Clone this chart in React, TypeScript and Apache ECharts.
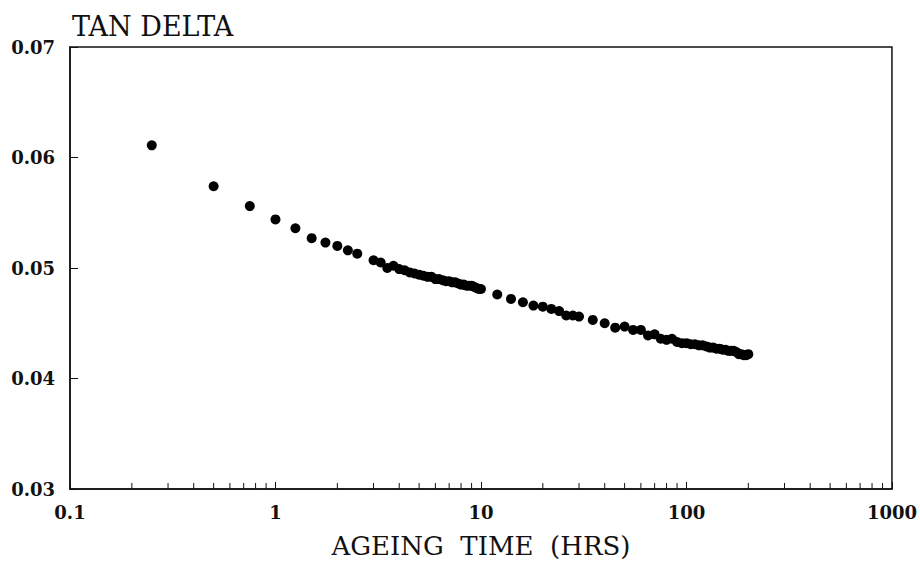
import React, { useEffect, useRef } from "react";
import * as echarts from "echarts";

// Ageing time (hours)
const hoursEarly = [0.25, 0.5, 0.75, 1.0, 1.25, 1.5, 1.75, 2.0, 2.25, 2.5];
const tanEarly = [0.0611, 0.0574, 0.0556, 0.0544, 0.0536, 0.0527, 0.0523, 0.052, 0.0516, 0.0513];

const hoursMid = [
  3.0, 3.25, 3.5, 3.75, 4.0, 4.25, 4.5, 4.75, 5.0, 5.25, 5.5, 5.75, 6.0, 6.25, 6.5, 6.75, 7.0,
  7.25, 7.5, 7.75, 8.0, 8.25, 8.5, 8.75, 9.0, 9.25, 9.5, 9.75, 10.0,
];
const tanMid = [
  0.0507, 0.0505, 0.05, 0.0502, 0.0499, 0.0498, 0.0496, 0.0495, 0.0494, 0.0493, 0.0492, 0.0492,
  0.049, 0.049, 0.0489, 0.0488, 0.0488, 0.0487, 0.0487, 0.0486, 0.0485, 0.0485, 0.0484, 0.0484,
  0.0484, 0.0483, 0.0482, 0.0481, 0.0481,
];

const hoursLate = [
  12, 14, 16, 18, 20, 22, 24, 26, 28, 30, 35, 40, 45, 50, 55, 60, 65, 70, 75, 80, 85, 90, 95, 100,
  105, 110, 115, 120, 125, 130, 135, 140, 145, 150, 155, 160, 165, 170, 175, 180, 185, 190, 195, 200,
];
const tanLate = [
  0.0476, 0.0472, 0.0469, 0.0466, 0.0465, 0.0463, 0.0461, 0.0457, 0.0457, 0.0456, 0.0453, 0.045,
  0.0446, 0.0447, 0.0444, 0.0444, 0.0439, 0.044, 0.0436, 0.0435, 0.0436, 0.0433, 0.0432, 0.0432,
  0.0431, 0.0431, 0.043, 0.043, 0.0429, 0.0428, 0.0428, 0.0427, 0.0427, 0.0426, 0.0426, 0.0425,
  0.0425, 0.0425, 0.0424, 0.0422, 0.0422, 0.0421, 0.0421, 0.0422,
];

// Axis ticks
const xMajorTicks = [0.1, 1, 10, 100, 1000];
const xMinorTicks = [
  0.2, 0.3, 0.4, 0.5, 0.6, 0.7, 0.8, 0.9, 2, 3, 4, 5, 6, 7, 8, 9, 20, 30, 40, 50, 60, 70, 80, 90,
  200, 300, 400, 500, 600, 700, 800, 900,
];
const yTicks = [0.03, 0.04, 0.05, 0.06, 0.07];

const xTitle = "AGEING  TIME  (HRS)";
const yTitle = "TAN DELTA";

const FONT = "'DejaVu Serif', 'Liberation Serif', serif";

export default function App() {
  const ref = useRef<HTMLDivElement>(null);

  useEffect(() => {
    if (!ref.current) return;
    const chart = echarts.init(ref.current, null, { renderer: "svg" });

    const hours = [...hoursEarly, ...hoursMid, ...hoursLate];
    const tan = [...tanEarly, ...tanMid, ...tanLate];
    const points = hours.map((h, i) => [h, tan[i]]);
    const yMin = yTicks[0];
    const yMax = yTicks[yTicks.length - 1];

    chart.setOption({
      animation: false,
      backgroundColor: "#ffffff",
      grid: {
        left: 70,
        right: 28,
        top: 47,
        bottom: 69,
        show: true,
        borderColor: "#111",
        borderWidth: 1.5,
        backgroundColor: "transparent",
      },
      xAxis: {
        type: "log",
        logBase: 10,
        min: xMajorTicks[0],
        max: xMajorTicks[xMajorTicks.length - 1],
        name: xTitle,
        nameLocation: "middle",
        nameGap: 44,
        nameTextStyle: { fontFamily: FONT, fontSize: 26, color: "#111" },
        axisLine: { show: true, lineStyle: { color: "#111", width: 1.5 } },
        axisTick: { show: true, inside: true, length: 7, lineStyle: { color: "#111", width: 1 } },
        splitLine: { show: false },
        axisLabel: {
          margin: 14,
          fontFamily: FONT,
          fontSize: 18,
          fontWeight: "bold",
          color: "#111",
          formatter: (v: number) => String(Number(v.toPrecision(6))),
        },
      },
      yAxis: {
        type: "value",
        min: yMin,
        max: yMax,
        interval: 0.01,
        name: yTitle,
        nameLocation: "end",
        nameGap: 7,
        nameTextStyle: {
          fontFamily: FONT,
          fontSize: 27,
          color: "#111",
          align: "left",
          verticalAlign: "bottom",
          padding: [0, 0, 0, 2],
        },
        axisLine: { show: true, lineStyle: { color: "#111", width: 1.5 } },
        axisTick: { show: true, inside: true, length: 8, lineStyle: { color: "#111", width: 1 } },
        splitLine: { show: false },
        axisLabel: {
          margin: 15,
          fontFamily: FONT,
          fontSize: 18,
          fontWeight: "bold",
          color: "#111",
          formatter: (v: number) => v.toFixed(2),
        },
      },
      series: [
        {
          type: "custom",
          silent: true,
          clip: false,
          data: xMinorTicks.map((t) => [t, yMin]),
          renderItem: (_params: any, api: any) => {
            const p = api.coord([api.value(0), yMin]);
            return {
              type: "line",
              shape: { x1: p[0], y1: p[1], x2: p[0], y2: p[1] - 6 },
              style: { stroke: "#111", lineWidth: 1 },
            };
          },
          z: 3,
        },
        {
          type: "scatter",
          data: points,
          symbol: "circle",
          symbolSize: 10,
          itemStyle: { color: "#000000", opacity: 1 },
          z: 4,
        },
      ],
    });

    return () => chart.dispose();
  }, []);

  return (
    <div
      ref={ref}
      style={{ position: "fixed", left: 0, top: 0, width: 920, height: 564, background: "#fff" }}
    />
  );
}
